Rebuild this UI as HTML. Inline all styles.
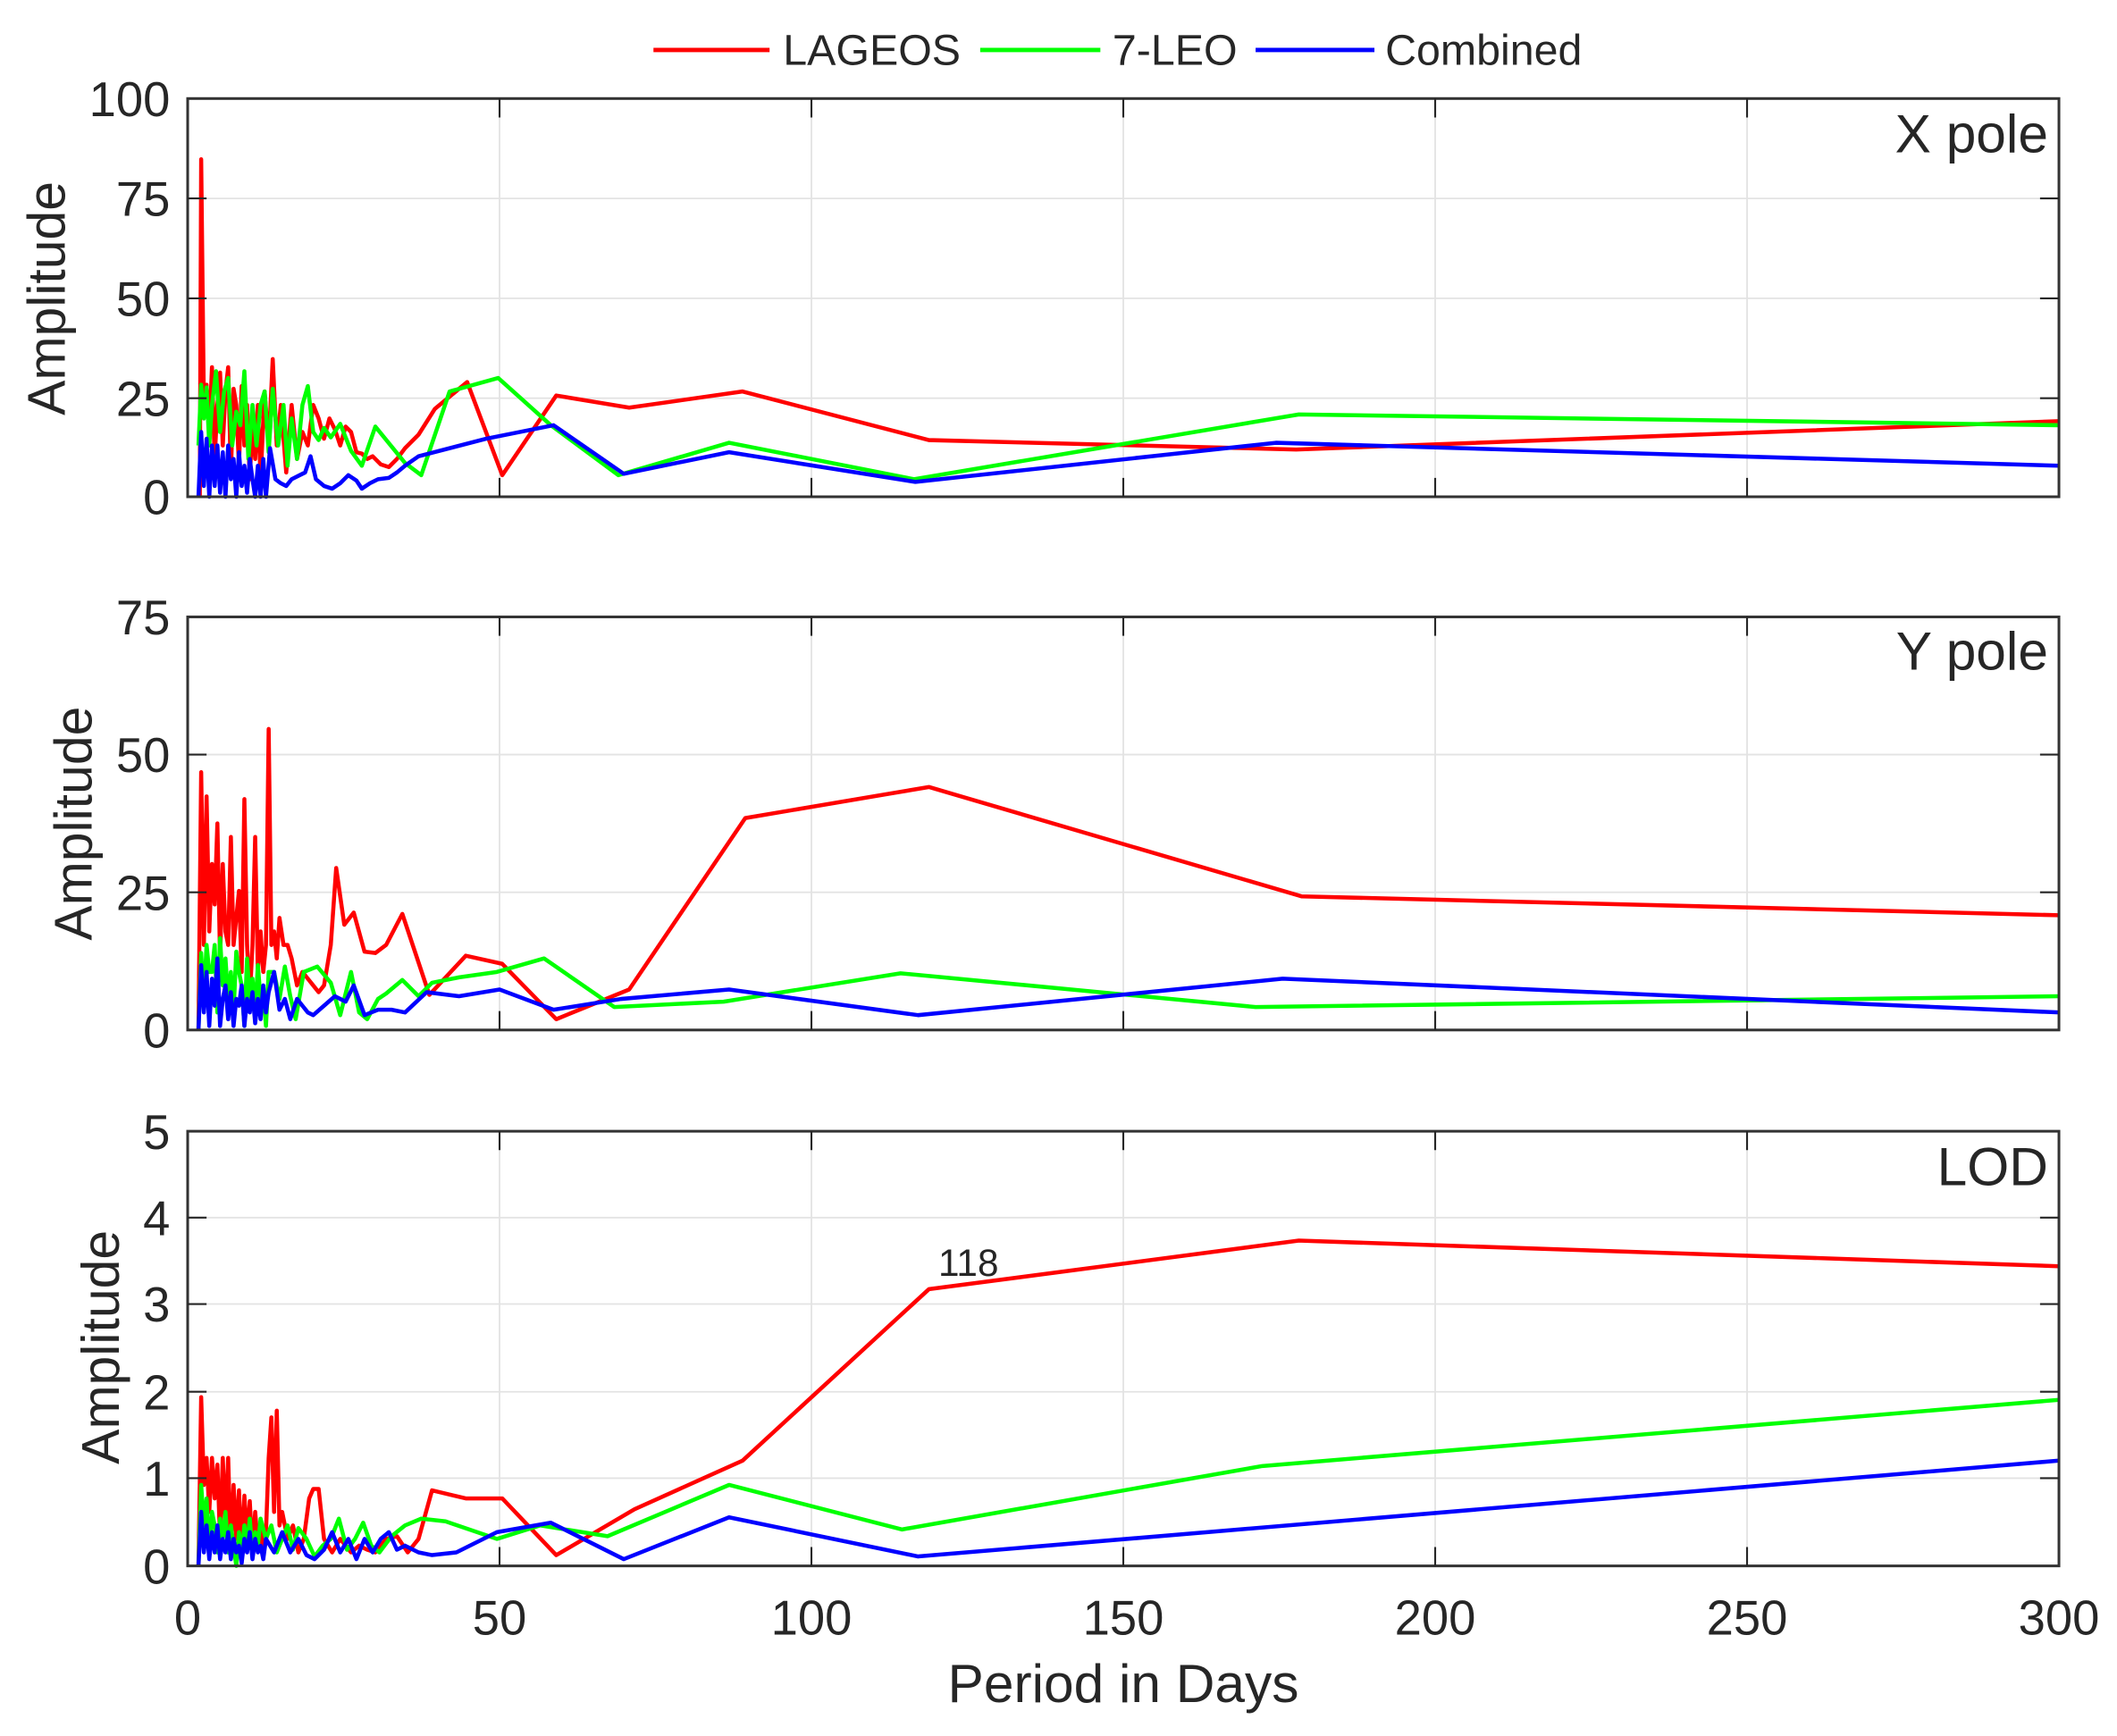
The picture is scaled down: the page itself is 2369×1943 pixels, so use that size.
<!DOCTYPE html>
<html><head><meta charset="utf-8"><style>
html,body{margin:0;padding:0;background:#fff;}
svg{display:block;}
text{font-family:"Liberation Sans",Arial,sans-serif;fill:#262626;}
</style></head><body>
<svg width="2369" height="1943" viewBox="0 0 1568 1286" preserveAspectRatio="none" xmlns="http://www.w3.org/2000/svg">
<!-- legend -->
<line x1="484" y1="37" x2="570" y2="37" stroke="#ff0000" stroke-width="3.2"/>
<text x="580" y="48" font-size="32" fill="#000">LAGEOS</text>
<line x1="726" y1="37" x2="815" y2="37" stroke="#00ff00" stroke-width="3.2"/>
<text x="824" y="48" font-size="32" fill="#000">7-LEO</text>
<line x1="930" y1="37" x2="1018" y2="37" stroke="#0000ff" stroke-width="3.2"/>
<text x="1026" y="48" font-size="32" fill="#000">Combined</text>

<g stroke="#e3e3e3" stroke-width="1.2">
<line x1="370" y1="73" x2="370" y2="368"/><line x1="601" y1="73" x2="601" y2="368"/><line x1="832" y1="73" x2="832" y2="368"/><line x1="1063" y1="73" x2="1063" y2="368"/><line x1="1294" y1="73" x2="1294" y2="368"/>
<line x1="139" y1="147" x2="1525" y2="147"/><line x1="139" y1="221" x2="1525" y2="221"/><line x1="139" y1="295" x2="1525" y2="295"/>
<line x1="370" y1="457" x2="370" y2="763"/><line x1="601" y1="457" x2="601" y2="763"/><line x1="832" y1="457" x2="832" y2="763"/><line x1="1063" y1="457" x2="1063" y2="763"/><line x1="1294" y1="457" x2="1294" y2="763"/>
<line x1="139" y1="559" x2="1525" y2="559"/><line x1="139" y1="661" x2="1525" y2="661"/>
<line x1="370" y1="838" x2="370" y2="1160"/><line x1="601" y1="838" x2="601" y2="1160"/><line x1="832" y1="838" x2="832" y2="1160"/><line x1="1063" y1="838" x2="1063" y2="1160"/><line x1="1294" y1="838" x2="1294" y2="1160"/>
<line x1="139" y1="902" x2="1525" y2="902"/><line x1="139" y1="966" x2="1525" y2="966"/><line x1="139" y1="1031" x2="1525" y2="1031"/><line x1="139" y1="1095" x2="1525" y2="1095"/>
</g>

<g fill="none" stroke-width="3" stroke-linejoin="round">
<polyline stroke="#ff0000" points="148,368 149,118 151,300 153,285 155,320 157,272 159,340 161,300 163,276 165,330 167,290 169,272 171,350 173,288 175,300 177,345 179,286 181,330 183,300 185,355 187,312 189,340 191,300 193,355 196,290 199,330 202,266 205,330 208,300 212,350 216,300 220,340 224,320 228,330 232,300 236,310 240,325 244,310 248,318 252,330 256,316 260,320 264,335 268,336 272,340 276,338 282,344 288,346 294,340 300,332 310,322 322,303 346,283 372,352 412,293 466,302 550,290 688,326 960,333 1525,312"/>
<polyline stroke="#00ff00" points="147,330 149,285 151,310 153,287 155,330 157,300 160,275 163,320 166,290 169,280 172,330 175,305 178,315 181,275 184,340 187,300 190,330 193,300 196,290 199,335 202,288 206,330 210,300 213,345 216,310 220,340 224,300 228,286 232,320 236,326 240,317 245,324 252,314 260,334 268,345 278,316 300,343 312,352 333,290 369,280 408,315 458,352 540,328 677,355 962,307 1525,315"/>
<polyline stroke="#0000ff" points="147,368 149,320 151,360 153,325 155,368 157,330 159,360 161,330 163,365 165,335 167,368 169,330 171,355 173,340 175,368 177,335 179,360 181,345 183,365 185,340 187,355 189,368 191,345 193,368 195,340 197,368 200,332 204,355 208,358 212,360 216,355 222,352 226,350 230,338 234,355 240,360 246,362 252,358 258,352 264,356 268,362 274,358 280,355 288,354 294,350 300,345 310,338 360,325 410,315 462,351 540,335 678,357 945,328 1525,345"/>
<polyline stroke="#ff0000" points="147,763 149,572 151,700 153,590 155,690 157,640 159,670 161,610 163,710 165,640 167,690 169,700 171,620 173,700 175,680 177,660 179,720 181,592 183,700 185,740 187,700 189,620 191,720 193,690 195,720 197,700 199,540 201,700 203,690 205,710 207,680 210,700 213,700 216,710 220,730 224,720 228,725 232,730 236,735 240,730 245,700 249,643 255,685 262,676 270,705 278,706 286,700 298,677 318,737 345,708 372,714 412,755 466,733 552,606 688,583 964,664 1525,678"/>
<polyline stroke="#00ff00" points="147,763 149,706 151,740 153,700 155,720 157,720 159,700 161,750 163,695 165,730 167,710 169,740 171,720 173,750 175,705 177,720 179,730 181,760 183,710 185,740 187,725 189,750 191,715 193,740 195,735 197,760 199,720 203,720 207,740 211,716 215,738 219,755 225,720 235,716 245,728 252,752 260,720 266,750 272,755 280,740 286,736 298,726 310,738 320,728 340,724 368,720 403,710 455,746 536,742 667,721 930,746 1525,738"/>
<polyline stroke="#0000ff" points="147,763 149,715 151,750 153,720 155,760 157,725 159,745 161,710 163,760 165,740 167,730 169,755 171,735 173,760 175,740 177,745 179,730 181,760 183,740 185,750 187,735 189,758 191,740 193,755 195,730 197,750 199,735 203,720 207,748 211,740 215,755 220,740 224,745 228,750 232,752 240,745 248,738 256,742 262,730 270,752 280,748 290,748 300,750 316,735 340,738 370,733 410,748 460,740 540,733 680,752 950,725 1525,750"/>
<polyline stroke="#ff0000" points="147,1160 149,1035 151,1100 153,1080 155,1120 157,1080 159,1110 161,1085 163,1140 165,1080 167,1130 169,1080 171,1150 173,1100 175,1140 177,1104 179,1150 181,1108 183,1140 185,1112 187,1150 189,1120 191,1145 193,1130 195,1150 197,1135 199,1080 201,1050 203,1120 205,1045 207,1130 209,1120 213,1140 217,1130 221,1150 225,1140 229,1110 232,1103 236,1103 240,1140 246,1150 252,1140 260,1150 266,1145 272,1148 278,1150 286,1140 294,1138 302,1150 310,1140 320,1104 345,1110 372,1110 412,1152 470,1118 550,1082 688,955 962,919 1525,938"/>
<polyline stroke="#00ff00" points="147,1160 149,1100 151,1130 153,1110 155,1150 157,1120 159,1130 161,1150 163,1125 165,1140 167,1120 169,1150 171,1130 173,1145 175,1160 177,1135 179,1150 181,1130 183,1145 185,1125 187,1150 189,1135 191,1145 193,1125 197,1140 201,1130 205,1150 209,1140 213,1130 217,1148 221,1132 227,1140 233,1153 239,1145 245,1140 251,1125 257,1148 263,1140 269,1128 275,1145 281,1150 290,1138 300,1130 312,1125 330,1127 368,1140 400,1130 450,1138 540,1100 668,1133 935,1086 1525,1037"/>
<polyline stroke="#0000ff" points="147,1160 149,1120 151,1150 153,1130 155,1155 157,1135 159,1150 161,1130 163,1155 165,1140 167,1150 169,1135 171,1155 173,1140 175,1150 177,1145 179,1158 181,1140 183,1150 185,1135 187,1155 189,1140 191,1150 193,1145 195,1155 197,1140 203,1150 209,1135 215,1150 221,1140 227,1152 233,1155 240,1148 246,1135 252,1150 258,1140 264,1155 270,1140 276,1150 282,1140 288,1135 294,1148 300,1145 310,1150 320,1152 338,1150 368,1135 408,1128 462,1155 540,1124 680,1153 1525,1082"/>
</g>

<g fill="none" stroke="#333" stroke-width="2">
<rect x="139" y="73" width="1386" height="295"/>
<rect x="139" y="457" width="1386" height="306"/>
<rect x="139" y="838" width="1386" height="322"/>
</g>
<g stroke="#262626" stroke-width="1.4">
<path d="M370,368v-14M601,368v-14M832,368v-14M1063,368v-14M1294,368v-14M370,73v14M601,73v14M832,73v14M1063,73v14M1294,73v14M139,147h14M139,221h14M139,295h14M1525,147h-14M1525,221h-14M1525,295h-14"/>
<path d="M370,763v-14M601,763v-14M832,763v-14M1063,763v-14M1294,763v-14M370,457v14M601,457v14M832,457v14M1063,457v14M1294,457v14M139,559h14M139,661h14M1525,559h-14M1525,661h-14"/>
<path d="M370,1160v-14M601,1160v-14M832,1160v-14M1063,1160v-14M1294,1160v-14M370,838v14M601,838v14M832,838v14M1063,838v14M1294,838v14M139,902h14M139,966h14M139,1031h14M139,1095h14M1525,902h-14M1525,966h-14M1525,1031h-14M1525,1095h-14"/>
</g>

<g font-size="36" text-anchor="end">
<text x="126" y="86">100</text><text x="126" y="160">75</text><text x="126" y="234">50</text><text x="126" y="308">25</text><text x="126" y="381">0</text>
<text x="126" y="470">75</text><text x="126" y="572">50</text><text x="126" y="674">25</text><text x="126" y="776">0</text>
<text x="126" y="851">5</text><text x="126" y="915">4</text><text x="126" y="979">3</text><text x="126" y="1044">2</text><text x="126" y="1108">1</text><text x="126" y="1173">0</text>
</g>
<g font-size="36" text-anchor="middle">
<text x="139" y="1211">0</text><text x="370" y="1211">50</text><text x="601" y="1211">100</text><text x="832" y="1211">150</text><text x="1063" y="1211">200</text><text x="1294" y="1211">250</text><text x="1525" y="1211">300</text>
</g>
<text x="832" y="1261" font-size="40" text-anchor="middle">Period in Days</text>
<g font-size="39" text-anchor="middle">
<text transform="translate(48,221) rotate(-90)">Amplitude</text>
<text transform="translate(68,610) rotate(-90)">Amplitude</text>
<text transform="translate(88,998) rotate(-90)">Amplitude</text>
</g>
<g font-size="40" text-anchor="end" fill="#000">
<text x="1517" y="113">X pole</text>
<text x="1517" y="496">Y pole</text>
<text x="1517" y="878">LOD</text>
</g>
<text x="695" y="945" font-size="28" fill="#000">118</text>
</svg>
</body></html>
